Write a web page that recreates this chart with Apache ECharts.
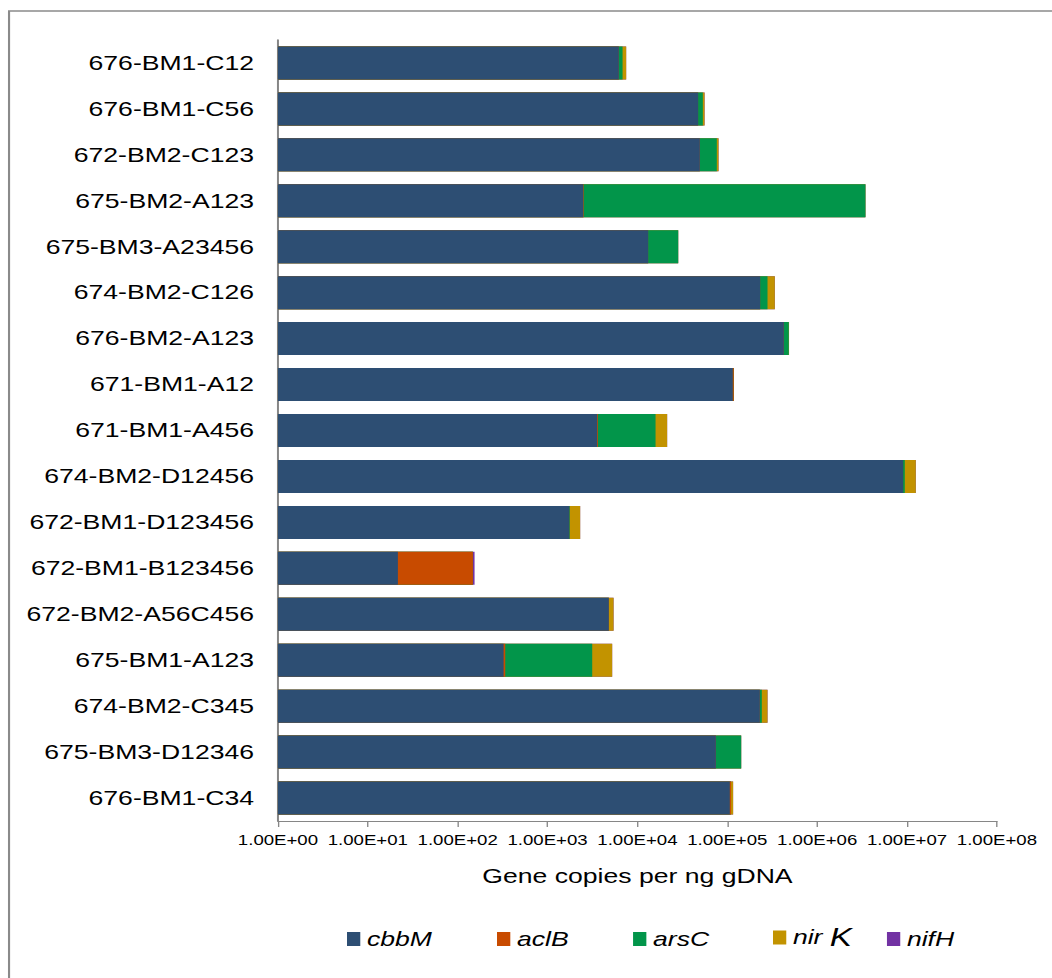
<!DOCTYPE html>
<html>
<head>
<meta charset="utf-8">
<script src="https://cdn.jsdelivr.net/npm/echarts@6/dist/echarts.min.js"></script>
<style>
  html, body { margin: 0; padding: 0; background: #ffffff; overflow: hidden; }
  #chart { width: 791px; height: 978px; transform: scaleX(1.32996); transform-origin: 0 0; }
</style>
</head>
<body>
<div id="chart"></div>
<script>
const categories = ['676-BM1-C12', '676-BM1-C56', '672-BM2-C123', '675-BM2-A123', '675-BM3-A23456',
  '674-BM2-C126', '676-BM2-A123', '671-BM1-A12', '671-BM1-A456', '674-BM2-D12456',
  '672-BM1-D123456', '672-BM1-B123456', '672-BM2-A56C456', '675-BM1-A123', '674-BM2-C345',
  '675-BM3-D12346', '676-BM1-C34'];
const cbbM = [6200, 47300, 49400, 2490, 13150, 231800, 425000, 115000, 3560, 9030000, 1740, 21.6, 4800, 324, 229800, 74500, 106600];
const aclB = [0, 0, 0, 30, 0, 0, 0, 3000, 70, 0, 0, 126, 0, 14, 0, 0, 3400];
const arsC = [630, 6100, 27000, 3437000, 15250, 48200, 58000, 0, 12270, 400000, 30, 0, 0, 2800, 12200, 68100, 0];
const nirK = [660, 2400, 3400, 0, 0, 57500, 3000, 0, 5500, 3070000, 535, 0, 620, 2095, 38000, 0, 6000];
const nifH = [0, 0, 0, 0, 0, 0, 0, 0, 0, 0, 0, 6.4, 0, 0, 0, 0, 0];
const tickLabels = ['1.00E+00', '1.00E+01', '1.00E+02', '1.00E+03', '1.00E+04', '1.00E+05', '1.00E+06', '1.00E+07', '1.00E+08'];

const genes = [
  { name: 'cbbM', values: cbbM, color: '#2D4E73' },
  { name: 'aclB', values: aclB, color: '#C84B00' },
  { name: 'arsC', values: arsC, color: '#02954A' },
  { name: 'nirK', values: nirK, color: '#C29300' },
  { name: 'nifH', values: nifH, color: '#7232A3' }
];

// cumulative totals for stacked segments on the log axis
const cumulative = [];
let running = categories.map(() => 0);
genes.forEach(g => {
  running = running.map((r, i) => r + g.values[i]);
  cumulative.push(running.slice());
});

// draw from the top of the stack backwards so earlier segments overlay later ones
const series = [];
for (let k = genes.length - 1; k >= 0; k--) {
  series.push({
    name: genes[k].name,
    type: 'bar',
    barWidth: 33,
    barGap: '-100%',
    itemStyle: { color: genes[k].color },
    data: cumulative[k]
  });
}

const font = '"Liberation Sans", Arial, sans-serif';
const legendLefts = [260.9, 373.7, 476, 581.2, 666.9];
const legendTops = [929, 929, 929, 925, 929];
const legends = genes.map((g, i) => ({
  data: [g.name],
  left: legendLefts[i],
  top: legendTops[i],
  padding: 0,
  icon: 'rect',
  itemWidth: 10,
  itemHeight: 14,
  selectedMode: false,
  formatter: g.name === 'nirK' ? '{a|nir }{b|K}' : '{a|' + g.name + '}',
  textStyle: {
    rich: {
      a: { fontFamily: font, fontStyle: 'italic', fontSize: 20, lineHeight: 26, color: '#000' },
      b: { fontFamily: font, fontStyle: 'italic', fontSize: 25, lineHeight: 26, color: '#000' }
    }
  }
}));

const chart = echarts.init(document.getElementById('chart'), null, { renderer: 'svg' });
chart.setOption({
  animation: false,
  backgroundColor: '#ffffff',
  graphic: [{
    type: 'rect',
    shape: { x: 6.8, y: 11, width: 900, height: 1000 },
    style: { fill: 'none', stroke: '#8A8A8A', lineWidth: 1.6 },
    silent: true
  }],
  legend: legends,
  grid: { left: 209, right: 41.4, top: 40, bottom: 157, containLabel: false },
  xAxis: {
    type: 'log',
    logBase: 10,
    min: 1,
    max: 1e8,
    splitNumber: 8,
    name: 'Gene copies per ng gDNA',
    nameLocation: 'middle',
    nameGap: 45,
    nameTextStyle: { fontFamily: font, fontSize: 20, color: '#000' },
    axisLine: { show: true, lineStyle: { color: '#868686', width: 1 } },
    axisTick: { show: true, length: 6, lineStyle: { color: '#868686' } },
    splitLine: { show: false },
    minorTick: { show: false },
    axisLabel: {
      margin: 12,
      fontFamily: font,
      fontSize: 14,
      color: '#000',
      formatter: v => tickLabels[Math.round(Math.log10(v))]
    }
  },
  yAxis: {
    type: 'category',
    inverse: true,
    data: categories,
    axisLine: { show: true, lineStyle: { color: '#868686', width: 1.5 } },
    axisTick: { show: false },
    axisLabel: { margin: 18, fontFamily: font, fontSize: 20, color: '#000' }
  },
  series: series
});
</script>
</body>
</html>
